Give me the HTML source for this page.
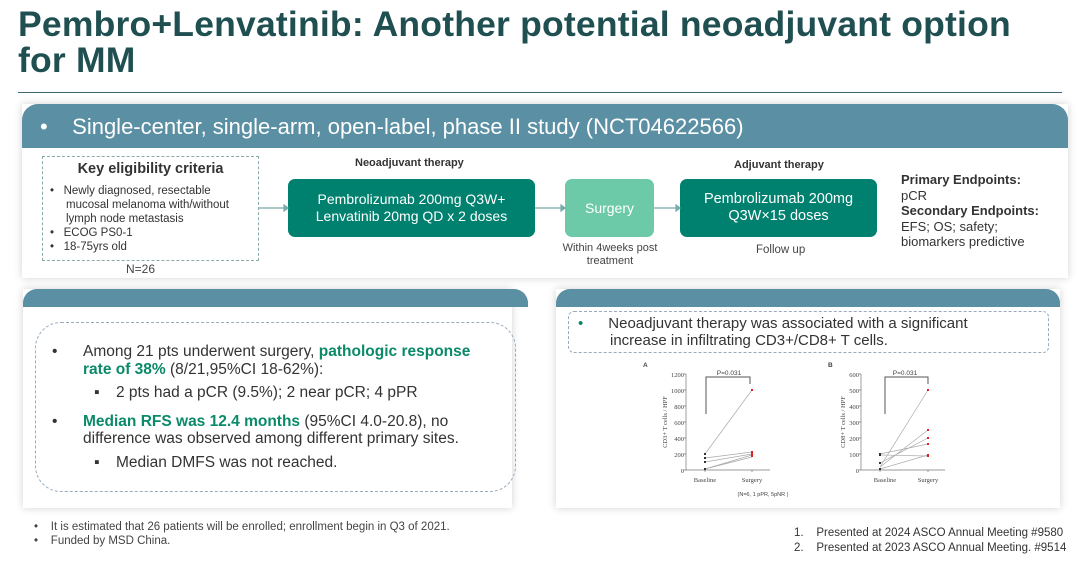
<!DOCTYPE html>
<html><head><meta charset="utf-8"><style>
*{margin:0;padding:0;box-sizing:border-box}
body{width:1080px;height:564px;background:#fff;position:relative;overflow:hidden;font-family:"Liberation Sans",sans-serif;color:#333}
.a{position:absolute}
.panel{position:absolute;background:#fff;box-shadow:0 0 8px rgba(0,0,0,.18)}
.hdr{position:absolute;background:#5b8fa3;border-radius:0 16px 0 0}
.g{color:#0b8a6a;font-weight:bold}
.tbox{position:absolute;background:#00806e;color:#fff;border-radius:7px;display:flex;align-items:center;justify-content:center;text-align:center;font-size:14px;line-height:17px}
</style></head><body>
<div class="a" style="left:18px;top:6px;font-size:35.5px;line-height:36px;font-weight:bold;color:#1f4f50;letter-spacing:0.2px">Pembro+Lenvatinib: Another potential neoadjuvant option<br>for MM</div>
<div class="a" style="left:18px;top:92px;width:1044px;height:1px;background:#3d6670"></div>

<div class="panel" style="left:22px;top:104px;width:1046px;height:174px"></div>
<div class="hdr" style="left:22px;top:104px;width:1046px;height:44px;border-radius:16px 16px 0 0"></div>
<div class="a" style="left:40px;top:114px;font-size:22px;color:#fff">•&nbsp;&nbsp;&nbsp; Single-center, single-arm, open-label, phase II study (NCT04622566)</div>

<div class="a" style="left:42px;top:156px;width:217px;height:105px;border:1px dashed #8aa"></div>
<div class="a" style="left:42px;top:161px;width:217px;text-align:center;font-size:14.5px;font-weight:bold;color:#333">Key eligibility criteria</div>
<div class="a" style="left:50px;top:184px;font-size:11.5px;line-height:14px;color:#333">
<div>•&nbsp;&nbsp; Newly diagnosed, resectable</div>
<div style="padding-left:16px">mucosal melanoma with/without<br>lymph node metastasis</div>
<div>•&nbsp;&nbsp; ECOG PS0-1</div><div>•&nbsp;&nbsp; 18-75yrs old</div></div>
<div class="a" style="left:126px;top:262px;font-size:12px;color:#444">N=26</div>

<div class="a" style="left:355px;top:157px;font-size:11px;font-weight:bold;color:#333">Neoadjuvant therapy</div>
<div class="tbox" style="left:288px;top:179px;width:247px;height:58px">Pembrolizumab 200mg Q3W+<br>Lenvatinib 20mg QD x 2 doses</div>
<div class="tbox" style="left:565px;top:179px;width:89px;height:58px;background:#6dcaa8;font-size:14px">Surgery</div>
<div class="a" style="left:558px;top:242px;width:104px;text-align:center;font-size:11px;line-height:13px;color:#444">Within 4weeks post<br>treatment</div>
<div class="a" style="left:734px;top:159px;font-size:11px;font-weight:bold;color:#333">Adjuvant therapy</div>
<div class="tbox" style="left:680px;top:179px;width:197px;height:58px;font-size:14.5px">Pembrolizumab 200mg<br>Q3W×15 doses</div>
<div class="a" style="left:756px;top:244px;font-size:11.5px;color:#444">Follow up</div>
<svg class="a" style="left:0;top:0" width="1080" height="300">
<g stroke="#7aa" stroke-width="1.2" fill="#7aa">
<line x1="259" y1="208" x2="284" y2="208"/><polygon points="284,205 288,208 284,211"/>
<line x1="535" y1="208" x2="561" y2="208"/><polygon points="561,205 565,208 561,211"/>
<line x1="654" y1="208" x2="676" y2="208"/><polygon points="676,205 680,208 676,211"/>
</g></svg>
<div class="a" style="left:901px;top:172px;font-size:13px;line-height:15.5px;color:#333"><b>Primary Endpoints:</b><br>pCR<br><b>Secondary Endpoints:</b><br>EFS; OS; safety;<br>biomarkers predictive</div>

<div class="panel" style="left:23px;top:289px;width:489px;height:219px"></div>
<div class="hdr" style="left:23px;top:289px;width:505px;height:18px;border-radius:14px 14px 0 0"></div>
<div class="a" style="left:35px;top:322px;width:481px;height:170px;border:1px dashed #9ab;border-radius:26px"></div>
<div class="a" style="left:52px;top:343px;font-size:15.5px;line-height:17.5px;color:#333">
<div style="position:relative;padding-left:31px"><span class="a" style="left:0">•</span>Among 21 pts underwent surgery, <span class="g">pathologic response<br>rate of 38%</span> (8/21,95%CI 18-62%):</div>
<div style="position:relative;padding-left:64px;margin-top:6px"><span class="a" style="left:42px">▪</span>2 pts had a pCR (9.5%); 2 near pCR; 4 pPR</div>
<div style="position:relative;padding-left:31px;margin-top:11px"><span class="a" style="left:0">•</span><span class="g">Median RFS was 12.4 months</span> (95%CI 4.0-20.8), no<br>difference was observed among different primary sites.</div>
<div style="position:relative;padding-left:64px;margin-top:6px"><span class="a" style="left:42px">▪</span>Median DMFS was not reached.</div>
</div>
<div class="a" style="left:34px;top:520px;font-size:11.5px;line-height:14px;color:#444">•&nbsp;&nbsp;&nbsp; It is estimated that 26 patients will be enrolled; enrollment begin in Q3 of 2021.<br>•&nbsp;&nbsp;&nbsp; Funded by MSD China.</div>

<div class="panel" style="left:556px;top:289px;width:504px;height:219px"></div>
<div class="hdr" style="left:556px;top:289px;width:504px;height:18px;border-radius:14px 14px 0 0"></div>
<div class="a" style="left:568px;top:311px;width:481px;height:42px;border:1px dashed #9ab;border-radius:6px"></div>
<div class="a" style="left:578px;top:315px;font-size:15px;line-height:17px;color:#333"><span style="color:#0b8a6a">•</span><span style="margin-left:25px">Neoadjuvant therapy was associated with a significant</span><br><span style="margin-left:32px">increase in infiltrating CD3+/CD8+ T cells.</span></div>

<svg class="a" style="left:0;top:0" width="1080" height="564" font-family="Liberation Serif,serif">
<g font-size="6.5" fill="#444">
<text x="643" y="367" font-weight="bold" font-family="Liberation Sans">A</text>
<text x="828" y="367" font-weight="bold" font-family="Liberation Sans">B</text>
<g text-anchor="end">
<text x="684" y="377">1200</text><text x="684" y="393">1000</text><text x="684" y="409">800</text><text x="684" y="425">600</text><text x="684" y="441">400</text><text x="684" y="457">200</text><text x="684" y="473">0</text>
<text x="859" y="377">600</text><text x="859" y="393">500</text><text x="859" y="409">400</text><text x="859" y="425">300</text><text x="859" y="441">200</text><text x="859" y="457">100</text><text x="859" y="473">0</text>
</g>
<text x="705" y="482" text-anchor="middle">Baseline</text><text x="752" y="482" text-anchor="middle">Surgery</text>
<text x="885" y="482" text-anchor="middle">Baseline</text><text x="928" y="482" text-anchor="middle">Surgery</text>
<text transform="translate(667,422) rotate(-90)" text-anchor="middle">CD3+ T cells / HPF</text>
<text transform="translate(845,422) rotate(-90)" text-anchor="middle">CD8+ T cells / HPF</text>
<text x="729" y="375" text-anchor="middle" font-family="Liberation Sans">P=0.031</text>
<text x="905" y="375" text-anchor="middle" font-family="Liberation Sans">P=0.031</text>
<text x="763" y="496" text-anchor="middle" font-family="Liberation Sans" font-size="5.5">(N=6, 1 pPR, 5pNR )</text>
</g>
<g stroke="#777" stroke-width="0.7" fill="none">
<path d="M686,374V470H770M686,374h-2M686,390h-2M686,406h-2M686,422h-2M686,438h-2M686,454h-2M686,470h-2M705,470v2M752,470v2"/>
<path d="M861,374V470H945M861,374h-2M861,390h-2M861,406h-2M861,422h-2M861,438h-2M861,454h-2M861,470h-2M880,470v2M928,470v2"/>
<path d="M706,414V377H750V384" stroke="#555" stroke-width="1"/>
<path d="M885,414V377H928V384" stroke="#555" stroke-width="1"/>
</g>
<g stroke="#aaa" stroke-width="0.7">
<line x1="705" y1="454" x2="752" y2="390"/><line x1="705" y1="458" x2="752" y2="452"/><line x1="705" y1="462" x2="752" y2="454"/><line x1="705" y1="469" x2="752" y2="455"/><line x1="705" y1="469" x2="752" y2="457"/>
<line x1="880" y1="467" x2="928" y2="390"/><line x1="880" y1="454" x2="928" y2="444"/><line x1="880" y1="467" x2="928" y2="430"/><line x1="880" y1="463" x2="928" y2="438"/><line x1="880" y1="469" x2="928" y2="455"/><line x1="880" y1="455" x2="928" y2="456"/>
</g>
<g fill="#333"><rect x="704" y="453" width="2" height="2"/><rect x="704" y="457" width="2" height="2"/><rect x="704" y="461" width="2" height="2"/><rect x="704" y="468" width="2" height="2"/>
<rect x="879" y="453" width="2" height="3"/><rect x="879" y="462" width="2" height="2"/><rect x="879" y="468" width="2" height="2"/></g>
<g fill="#d22"><rect x="751" y="389" width="2" height="2"/><rect x="751" y="451" width="2" height="6"/>
<rect x="927" y="389" width="2" height="2"/><rect x="927" y="429" width="2" height="2"/><rect x="927" y="437" width="2" height="2"/><rect x="927" y="443" width="2" height="2"/><rect x="927" y="454" width="2" height="3"/></g>
</svg>
<div class="a" style="left:794px;top:526px;font-size:11.5px;line-height:15px;color:#333">1.&nbsp;&nbsp;&nbsp; Presented at 2024 ASCO Annual Meeting #9580<br>2.&nbsp;&nbsp;&nbsp; Presented at 2023 ASCO Annual Meeting. #9514</div>
</body></html>
